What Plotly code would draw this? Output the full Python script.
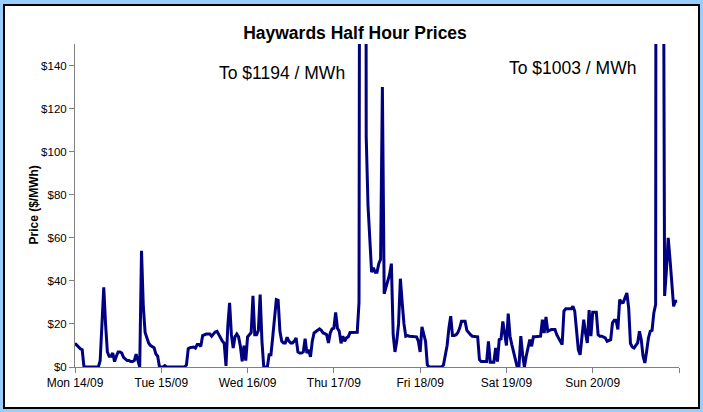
import plotly.graph_objects as go
import pandas as pd

# Half-hourly prices ($/MWh), 48 values per day
mon = [11, 10, 9, 8.5, 8, 0, 0, 0, 0, 0, 0, 0, 0, 0, 3, 18, 37, 20, 7, 5, 5, 6.5, 2.5, 5,
       7, 7, 6.5, 4.5, 3.5, 3, 3, 2.5, 2.5, 3, 6, 3, 0, 54, 28, 16, 13, 11, 10, 9.5, 9, 6, 5, 0]
tue = [0, 0, 0.6, 0, 0, 0, 0, 0, 0, 0, 0, 0, 0, 0, 1, 8.5, 9, 9.3, 9.3, 8.8, 10.4, 10.4, 9.6, 14.6,
       15, 15.3, 15.3, 15.3, 14.3, 15.5, 16.3, 16.6, 15, 13, 12, 11, 0.5, 19, 29.8, 15, 8.8, 14, 15.3, 14, 9.6, 2.6, 9.9, 3]
wed = [14, 15, 16, 33, 15, 15, 17, 33.6, 12, 0, 0, 0, 5.7, 5.7, 14, 22, 31.3, 31, 16.6, 12, 11.2, 11.2, 13.8, 12,
       11.2, 11.2, 12, 13.5, 7, 6.5, 6.5, 7, 13.2, 6.5, 8, 4.7, 12, 15.8, 16.5, 17, 17.7, 17, 15.8, 15.5, 15, 11.2, 15.8, 17.7]
thu = [18, 25.4, 18, 16.6, 11, 14.3, 12, 13.5, 14, 16, 16, 16.1, 16.1, 16.1, 30, 700, 1194, 900, 107, 75, 58, 44, 46, 44,
       44, 48, 50, 130, 34, 37, 39, 43, 48, 15, 7, 12, 20, 41, 30, 20, 14.3, 14.6, 14.3, 14.3, 14, 14, 14, 12]
fri = [7, 18.6, 14.6, 12, 1, 0, 0, 0, 0, 0, 0, 0, 0, 1, 6, 10, 18, 23.6, 14.6, 14.6, 15, 16, 18.1, 21.2,
       21.2, 21.2, 17, 15.8, 15, 14.3, 14.3, 14.3, 14, 3.4, 2.5, 2.5, 2.5, 2.5, 11.9, 2.2, 2.2, 2.2, 8.8, 2.5, 12.7, 13, 21.2, 14.3]
sat = [10, 24.8, 14.3, 10.4, 6.5, 3, 0, 0.5, 14.3, 5.7, 0, 5, 9, 12.7, 9.6, 14, 14, 14.2, 14.3, 14.3, 22, 15.8, 23.3, 16.6,
       17, 17.4, 17.4, 17.4, 15, 13, 11.9, 10.4, 26, 27, 27, 27, 27, 28.2, 25.9, 17, 8.1, 5.7, 14.3, 22, 15.8, 11.2, 26.4, 14.3]
sun = [25.4, 25.4, 25.4, 15, 14.3, 14.3, 14, 13.5, 11.9, 12.5, 12.7, 20.5, 21.7, 21.7, 17.4, 31.3, 29.8, 30, 32, 34.4, 27.4, 10.9, 9.3, 8.8,
       10, 11.2, 16.6, 12.7, 5, 1.9, 7.3, 13.5, 16.6, 17, 25.1, 29, 1003, 900, 700, 300, 33, 45, 60, 50, 40, 28.2, 30.5, 30.5]

day_labels = ["Mon 14/09", "Tue 15/09", "Wed 16/09", "Thu 17/09", "Fri 18/09", "Sat 19/09", "Sun 20/09", ""]
y_tick_values = [0, 20, 40, 60, 80, 100, 120, 140]
y_tick_labels = ["$0", "$20", "$40", "$60", "$80", "$100", "$120", "$140"]
note_texts = ["To $1194 / MWh", "To $1003 / MWh"]
note_x = ["2009-09-16 09:40", "2009-09-19 18:30"]
note_y = [136.5, 138.8]

prices = mon + tue + wed + thu + fri + sat + sun
times = pd.date_range("2009-09-14 00:00", periods=len(prices), freq="30min")
tick_dates = pd.date_range("2009-09-14", periods=8, freq="D")

W, H = 703, 412
L, R, T, B = 75, 24, 44, 45
pw, ph = W - L - R, H - T - B

FONT = "Liberation Sans, Arial, sans-serif"

fig = go.Figure(go.Scatter(x=times, y=prices, mode="lines",
                           line=dict(color="#000080", width=3), hoverinfo="x+y"))

annotations = []
for t, xx, yy in zip(note_texts, note_x, note_y):
    annotations.append(dict(text=t, x=xx, y=yy, xref="x", yref="y", showarrow=False,
                            xanchor="center", yanchor="middle",
                            font=dict(family=FONT, size=17.5, color="black")))
annotations.append(dict(text="<b>Price ($/MWh)</b>", x=(33 - L) / pw, y=0.5, xref="paper", yref="paper",
                        textangle=-90, showarrow=False, xanchor="center", yanchor="middle",
                        font=dict(family=FONT, size=12, color="black")))

fig.update_layout(
    width=W, height=H,
    margin=dict(l=L, r=R, t=T, b=B, pad=0),
    paper_bgcolor="#99CCFF",
    plot_bgcolor="white",
    showlegend=False,
    title=dict(text="<b>Haywards Half Hour Prices</b>", x=355 / W, xanchor="center",
               y=1 - 33 / H, yanchor="middle", yref="container",
               font=dict(family=FONT, size=17.5, color="black")),
    annotations=annotations,
    shapes=[dict(type="rect", xref="paper", yref="paper",
                 x0=(4 - L) / pw, x1=(699 - L) / pw,
                 y0=(H - B - 408) / ph, y1=(H - B - 5) / ph,
                 line=dict(color="black", width=2), fillcolor="white", layer="below")],
    xaxis=dict(type="date", range=[tick_dates[0], tick_dates[-1]],
               tickvals=tick_dates, ticktext=day_labels,
               ticks="outside", ticklen=5, tickcolor="#808080",
               showline=True, linecolor="#808080", linewidth=1,
               showgrid=False, zeroline=False,
               tickfont=dict(family=FONT, size=12, color="black")),
    yaxis=dict(range=[0, 150], tickvals=y_tick_values, ticktext=y_tick_labels,
               ticks="outside", ticklen=5, tickcolor="#808080",
               showline=True, linecolor="#808080", linewidth=1,
               showgrid=False, zeroline=False,
               tickfont=dict(family=FONT, size=11.5, color="black")),
)

fig.write_html("out.html", config={"displayModeBar": False},
               post_script="document.body.style.margin='0';document.body.style.padding='0';"
                           "document.body.style.overflow='hidden';")
